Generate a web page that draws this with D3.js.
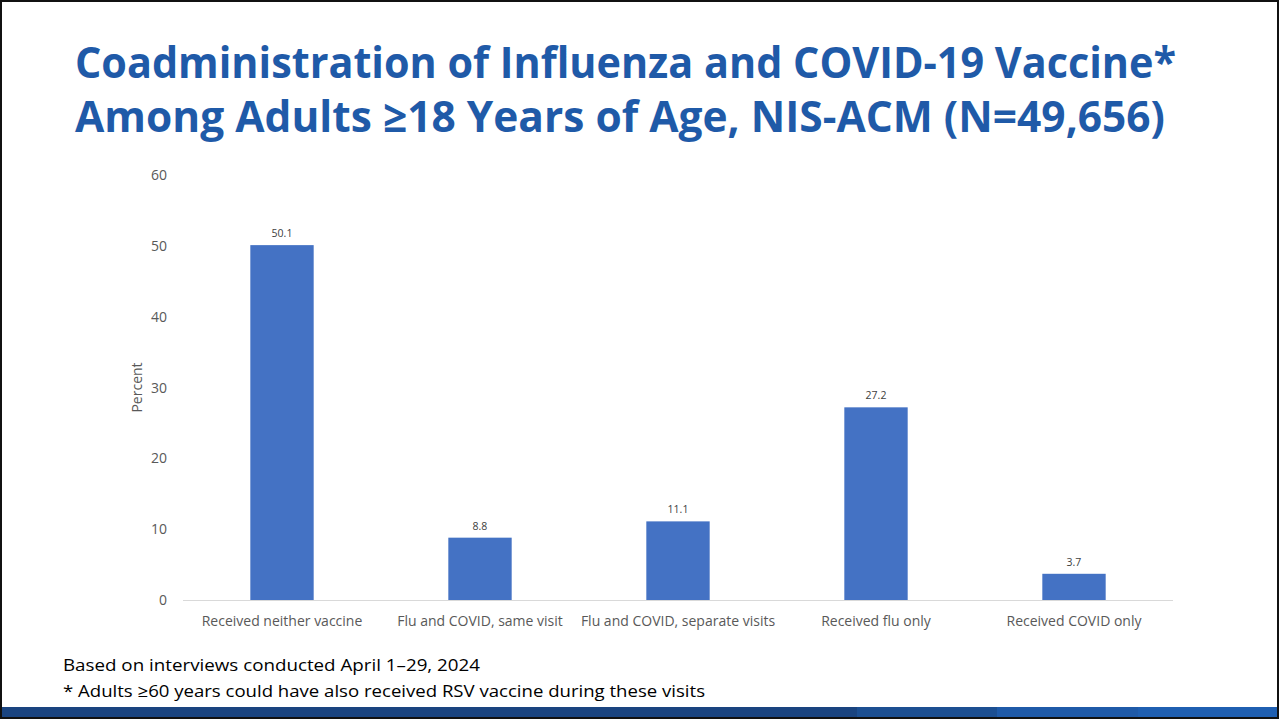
<!DOCTYPE html>
<html>
<head>
<meta charset="utf-8">
<script src="https://cdn.jsdelivr.net/npm/d3@7"></script>
<style>
  html, body { margin: 0; padding: 0; background: #fff; }
  svg { display: block; }
</style>
</head>
<body>
<div id="chart"></div>
<script>
var categories = ['Received neither vaccine', 'Flu and COVID, same visit', 'Flu and COVID, separate visits', 'Received flu only', 'Received COVID only']
var values = [50.1, 8.8, 11.1, 27.2, 3.7]
var y_ticks = [0, 10, 20, 30, 40, 50, 60]
var title_lines = ['Coadministration of Influenza and COVID-19 Vaccine*', 'Among Adults \u226518 Years of Age, NIS-ACM (N=49,656)']
var footnotes = ['Based on interviews conducted April 1\u201329, 2024', '* Adults \u226560 years could have also received RSV vaccine during these visits']
var band_colors = ['#1a4480', '#1c4f92', '#1f5aa8', '#1f5fb1']

var width = 1279
var height = 719

var svg = d3.select('#chart').append('svg')
  .attr('width', width)
  .attr('height', height)

// bottom colour band
var band_x = d3.scaleOrdinal().domain(d3.range(4)).range([0, 857, 997, 1138])
var band_w = [857, 140, 141, 141]
svg.selectAll('rect.band').data(band_colors).enter().append('rect')
  .attr('class', 'band')
  .attr('x', function(d, i) { return band_x(i) })
  .attr('y', 707)
  .attr('width', function(d, i) { return band_w[i] })
  .attr('height', 11)
  .attr('fill', function(d) { return d })

// frame
svg.append('rect')
  .attr('x', 1).attr('y', 1)
  .attr('width', width - 2).attr('height', height - 2)
  .attr('fill', 'none')
  .attr('stroke', '#111')
  .attr('stroke-width', 2)

// title
var title_pos = [[75, 78, 1101], [75, 132, 1090]]
svg.selectAll('text.title').data(title_lines).enter().append('text')
  .attr('class', 'title')
  .attr('x', function(d, i) { return title_pos[i][0] })
  .attr('y', function(d, i) { return title_pos[i][1] })
  .attr('textLength', function(d, i) { return title_pos[i][2] })
  .attr('lengthAdjust', 'spacingAndGlyphs')
  .style('font-family', '"Open Sans", sans-serif')
  .style('font-weight', 700)
  .style('font-size', '43px')
  .attr('fill', '#1f5aa8')
  .text(function(d) { return d })

// chart
var x = d3.scaleBand()
  .domain(categories)
  .range([183, 1173])
  .paddingInner(0.68)
  .paddingOuter(0.34)

var y = d3.scaleLinear()
  .domain([0, 60])
  .range([600, 175])

svg.selectAll('text.ytick').data(y_ticks).enter().append('text')
  .attr('class', 'ytick')
  .attr('x', 167)
  .attr('y', function(d) { return y(d) + 5 })
  .attr('text-anchor', 'end')
  .style('font-family', '"Open Sans", sans-serif')
  .style('font-size', '14px')
  .attr('fill', '#595959')
  .text(function(d) { return d })

svg.append('text')
  .attr('transform', 'translate(142,' + y(30) + ') rotate(-90)')
  .attr('text-anchor', 'middle')
  .style('font-family', '"Open Sans", sans-serif')
  .style('font-size', '14px')
  .attr('fill', '#595959')
  .text('Percent')

svg.selectAll('rect.bar').data(values).enter().append('rect')
  .attr('class', 'bar')
  .attr('x', function(d, i) { return x(categories[i]) })
  .attr('y', function(d) { return y(d) })
  .attr('width', x.bandwidth())
  .attr('height', function(d) { return y(0) - y(d) })
  .attr('fill', '#4472c4')

svg.append('line')
  .attr('x1', 183).attr('x2', 1173)
  .attr('y1', y(0) + 0.5).attr('y2', y(0) + 0.5)
  .attr('stroke', '#d9d9d9')
  .attr('stroke-width', 1)

svg.selectAll('text.val').data(values).enter().append('text')
  .attr('class', 'val')
  .attr('x', function(d, i) { return x(categories[i]) + x.bandwidth() / 2 })
  .attr('y', function(d) { return y(d) - 8 })
  .attr('text-anchor', 'middle')
  .style('font-family', '"Open Sans", sans-serif')
  .style('font-size', '10.5px')
  .attr('fill', '#404040')
  .text(function(d) { return d.toFixed(1) })

svg.selectAll('text.cat').data(categories).enter().append('text')
  .attr('class', 'cat')
  .attr('x', function(d) { return x(d) + x.bandwidth() / 2 })
  .attr('y', 626)
  .attr('text-anchor', 'middle')
  .style('font-family', '"Open Sans", sans-serif')
  .style('font-size', '14px')
  .attr('fill', '#595959')
  .text(function(d) { return d })

// footnotes
var foot_pos = [[63, 671, 417], [63, 697, 642]]
svg.selectAll('text.foot').data(footnotes).enter().append('text')
  .attr('class', 'foot')
  .attr('x', function(d, i) { return foot_pos[i][0] })
  .attr('y', function(d, i) { return foot_pos[i][1] })
  .attr('textLength', function(d, i) { return foot_pos[i][2] })
  .attr('lengthAdjust', 'spacingAndGlyphs')
  .style('font-family', '"Open Sans", sans-serif')
  .style('font-size', '17px')
  .attr('fill', '#000')
  .text(function(d) { return d })
</script>
</body>
</html>
